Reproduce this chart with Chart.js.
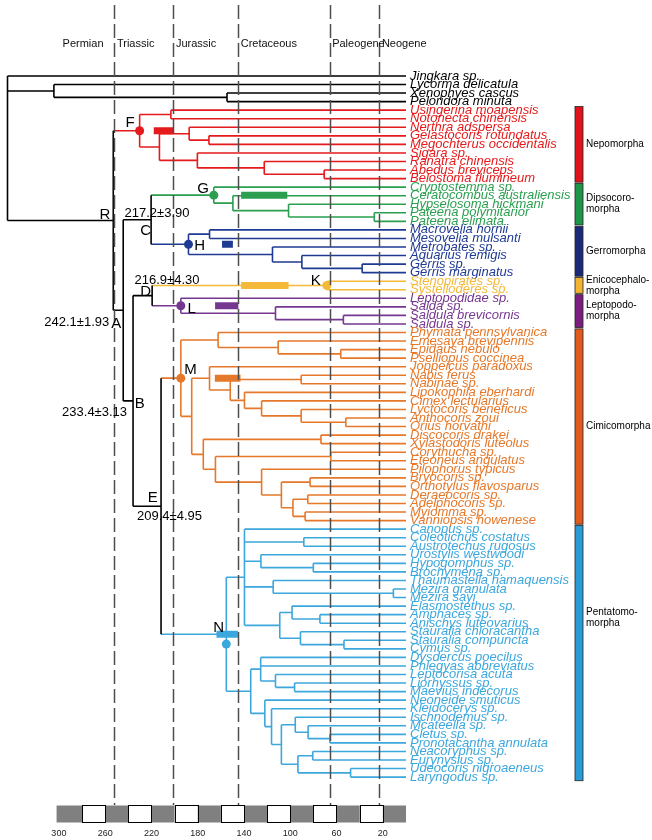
<!DOCTYPE html>
<html>
<head>
<meta charset="utf-8">
<script src="https://cdn.jsdelivr.net/npm/chart.js@4.4.1/dist/chart.umd.min.js"></script>
<style>
  html, body { margin: 0; padding: 0; background: #fff; }
  canvas { display: block; }
</style>
</head>
<body>
<canvas id="tree" width="652" height="840"></canvas>
<script>
// Dated phylogeny of Heteroptera, ages in Ma (written after each ":")

// Clades (placeholders #0..#6 in the backbone)
const cladeNames = ['Nepomorpha', 'Dipsocoromorpha', 'Gerromorpha', 'Enicocephalomorpha',
    'Leptopodomorpha', 'Cimicomorpha', 'Pentatomomorpha'];
const cladeLabels = [['Nepomorpha'], ['Dipsocoro-', 'morpha'], ['Gerromorpha'],
    ['Enicocephalo-', 'morpha'], ['Leptopodo-', 'morpha'], ['Cimicomorpha'], ['Pentatomo-', 'morpha']];
const cladeColors = ['#e41a1c', '#2b9f4f', '#1f3a93', '#f4b939', '#763790', '#e5782a', '#3ca7dc'];
const cladeBarColors = ['#e0131d', '#1e964a', '#1b2a78', '#f3b531', '#7a1f7f', '#e15b1e', '#2b9bd6'];

const backbone = '(Jingkara sp.,(Lycorma delicatula,(Xenophyes cascus,Peloridora minuta):154.7):304.3,' +
    '(#0,((#1,#2)C:220.3,((#3,#4)D:219.4,(#5,#6)E:211.7)B:235.9)A:244.4)R:253):344.4';

const cladeTrees = [
    // Nepomorpha
    '((Usingerina moapensis,Notonecta chinensis):203.2,((Nerthra adspersa,(Gelastocoris rotundatus,' +
    'Megochterus occidentalis):170.3):187.4,(Sigara sp.,(Ranatra chinensis,(Abedus breviceps,' +
    'Belostoma flumineum):70.7):122.5):180.3):213.1)F:230.2',
    // Dipsocoromorpha
    '(Cryptostemma sp.,(Ceratocombus australiensis,(Hypselosoma hickmani,(Pateena polymitarior,' +
    'Pateena elimata):27.4):101.5):149.6)G:166.1',
    // Gerromorpha
    '((Macrovelia hornii,Mesovelia mulsanti):169.8,(Metrobates sp.,(Aquarius remigis,(Gerris sp.,' +
    'Gerris marginatus):37.9):90):115.4)H:188',
    // Enicocephalomorpha
    '(Stenopirates sp.,Systelloderes sp.)K:68.4',
    // Leptopodomorpha
    '(Leptopodidae sp.,(Salda sp.,(Saldula brevicornis,Saldula sp.):54.1):112.8)L:194.6',
    // Cimicomorpha
    '((Phymata pennsylvanica,(Emesaya brevipennis,(Epidaus nebulo,Pselliopus coccinea):56.4):110.5):162.4,' +
    '((Joppeicus paradoxus,((Nabis ferus,Nabinae sp.):90.6,(Lipokophila eberhardi,(Cimex lectularius,' +
    '(Lyctocoris beneficus,(Anthocoris zoui,Orius horvathi):52):90.6):124.8):139.6):151.9):169.8,' +
    '((Discocoris drakei,Xylastodoris luteolus):73.5,((Corythucha sp.,Eteoneus angulatus):65,' +
    '(Pilophorus typicus,((Bryocoris sp.,Orthotylus flavosparus):82.9,((Deraeocoris sp.,Adelphocoris sp.):84.9,' +
    '(Myiomma sp.,Vanniopsis howenese):87.2):97.7):107.7):124.8):164.7):175.2):185.2)M:194.6',
    // Pentatomomorpha
    '((Canopus sp.,(Coleotichus costatus,Austrotechus rugosus):88.3,(Urostylis westwoodi,(Hypogomphus sp.,' +
    'Brochymena sp.):80.1):125.4,(Thaumastella namaquensis,(Mezira granulata,Mezira sayi):10.9):114.8,' +
    '((Elasmostethus sp.,(Amphaces sp.,Anischys luteovarius):74.4):98.5,(Stauralia chloracantha,' +
    '(Stauralia compuncta,Cymus sp.):53.6):91.2):109.1):139.6,' +
    '((Dysdercus poecilus,Phlegyas abbreviatus,(Leptocorisa acuta,(Liorhyssus sp.,Maevius indecorus):96.3):112.8):125.6,' +
    '(Neoneide smuticus,(Kleidocerys sp.,((Ischnodemus sp.,(Mcateella sp.,(Cletus sp.,Pronotacantha annulata):65.8):84.6):95.7,' +
    '((Neacoryphus sp.,Eurynysius sp.):80.6,(Udeocoris nigroaeneus,Laryngodus sp.):47.9):93.4):107.7):116.2):122):134.2)N:155.3'
];

// Node dots and 95% HPD bars (Ma)
const dotNodes = ['F', 'G', 'H', 'K', 'L', 'M', 'N'];
const barNodes = ['F', 'G', 'H', 'K', 'L', 'M', 'N'];
const barFrom = [218, 142.5, 159, 142.5, 165, 165.2, 163.8];
const barTo = [200.9, 102.6, 149.6, 101.5, 144.9, 143, 145.3];

// Age estimates printed next to backbone nodes
const noteNodes = ['A', 'B', 'C', 'D', 'E'];
const noteTexts = ['242.1±1.93', '233.4±3.13', '217.2±3.90', '216.9±4.30', '209.4±4.95'];

// Geological periods
const eraNames = ['Permian', 'Triassic', 'Jurassic', 'Cretaceous', 'Paleogene', 'Neogene'];
const eraStarts = [299, 252, 201, 145, 66, 23];
const boundaryAges = [252, 201, 145, 66, 23];

// Time scale bar
const tickValues = [300, 260, 220, 180, 140, 100, 60, 20];
const scaleStep = 20;
const scaleStart = 302;

/**
 * Reads a newick string where each inner node may carry a label and an age: (a,b)Label:age
 */
function parseNewick(str) {
    let i = 0;
    function readNode() {
        const node = { children: [], age: 0 };
        if (str[i] === '(') {
            i++;
            node.children.push(readNode());
            while (str[i] === ',') {
                i++;
                node.children.push(readNode());
            }
            i++;
        }
        let name = '';
        while (i < str.length && !',():'.includes(str[i])) name += str[i++];
        node.name = name.trim();
        if (str[i] === ':') {
            i++;
            let num = '';
            while (i < str.length && !',()'.includes(str[i])) num += str[i++];
            node.age = parseFloat(num);
        }
        return node;
    }
    return readNode();
}

// build the full tree, colour clades, and give every tip a row
const root = parseNewick(backbone);
const tips = [];
const byLabel = {};

function attach(node, color) {
    if (node.name.startsWith('#')) {
        const k = parseInt(node.name.slice(1), 10);
        Object.assign(node, parseNewick(cladeTrees[k]));
        color = cladeColors[k];
        node.clade = k;
    }
    node.color = color;
    node.children.forEach(c => attach(c, color));
    if (node.children.length === 0) {
        node.y = tips.length;
        tips.push(node);
    } else {
        const first = node.children[0].y;
        const last = node.children[node.children.length - 1].y;
        node.y = (first + last) / 2;
        if (node.name) byLabel[node.name] = node;
    }
}
attach(root, '#000000');

// collect branch segments by colour
const segments = {};
function addSegment(color, x1, y1, x2, y2) {
    if (!segments[color]) segments[color] = [];
    segments[color].push({ x: x1, y: y1 }, { x: x2, y: y2 }, { x: x2, y: null });
}
function walk(node, parent) {
    if (parent) addSegment(node.color, parent.age, node.y, node.age, node.y);
    if (node.children.length) {
        const first = node.children[0].y;
        const last = node.children[node.children.length - 1].y;
        addSegment(node.color, node.age, first, node.age, last);
        node.children.forEach(c => walk(c, node));
    }
}
walk(root, null);

const datasets = [];

// node dots
datasets.push({
    data: dotNodes.map(l => ({ x: byLabel[l].age, y: byLabel[l].y + (l === 'N' ? 1.15 : 0) })),
    showLine: false,
    pointRadius: 4.5,
    pointBorderWidth: 0,
    pointBackgroundColor: dotNodes.map(l => byLabel[l].color),
    order: 0
});

// HPD bars
barNodes.forEach((l, i) => {
    const n = byLabel[l];
    datasets.push({
        data: [{ x: barFrom[i], y: n.y }, { x: barTo[i], y: n.y }],
        borderColor: n.color,
        borderWidth: 7,
        borderCapStyle: 'butt',
        pointRadius: 0,
        order: 1
    });
});

// branches
Object.keys(segments).forEach(color => {
    datasets.push({
        data: segments[color],
        borderColor: color,
        borderWidth: 1.6,
        pointRadius: 0,
        spanGaps: false,
        order: 2
    });
});

// where node letters and age notes sit relative to their node (px)
const letterPos = {
    R: [-3, -2, 'right'], A: [-2, 17.7, 'right'], B: [1.7, 7.3, 'left'], C: [0, 15.3, 'right'],
    D: [-1, 0.4, 'right'], E: [-3.3, -4.7, 'right'], F: [-5, -4.1, 'right'], G: [-5, -1.8, 'right'],
    H: [5.7, 5.7, 'left'], K: [-6, -0.5, 'right'], L: [6.7, 7.5, 'left'], M: [3.4, -4.4, 'left'],
    N: [-2.3, -2.2, 'right']
};
const notePos = {
    A: [-14, 15.7, 'right'], B: [-6, 15, 'right'], C: [-26.6, -2.4, 'left'],
    D: [-17.6, -11.3, 'left'], E: [-24, 13.6, 'left']
};

const treeDecor = {
    id: 'treeDecor',
    beforeDraw(chart) {
        const ctx = chart.ctx;
        ctx.save();
        ctx.fillStyle = '#ffffff';
        ctx.fillRect(0, 0, chart.width, chart.height);
        ctx.restore();
    },
    afterDatasetsDraw(chart) {
        const { ctx, chartArea } = chart;
        const x = chart.scales.x;
        const y = chart.scales.y;

        // period boundaries
        ctx.save();
        ctx.strokeStyle = '#4d4d4d';
        ctx.lineWidth = 1.5;
        ctx.setLineDash([14, 5]);
        boundaryAges.forEach(a => {
            const px = Math.round(x.getPixelForValue(a)) + 0.5;
            ctx.beginPath();
            ctx.moveTo(px, chartArea.top);
            ctx.lineTo(px, chartArea.bottom);
            ctx.stroke();
        });
        ctx.restore();

        // node letters and age notes
        ctx.save();
        ctx.fillStyle = '#000';
        ctx.textBaseline = 'alphabetic';
        ctx.font = '15px "Liberation Sans", Arial, sans-serif';
        Object.keys(letterPos).forEach(l => {
            const n = byLabel[l];
            const p = letterPos[l];
            ctx.textAlign = p[2];
            ctx.fillText(l, x.getPixelForValue(n.age) + p[0], y.getPixelForValue(n.y) + p[1]);
        });
        ctx.font = '13px "Liberation Sans", Arial, sans-serif';
        noteNodes.forEach((l, i) => {
            const n = byLabel[l];
            const p = notePos[l];
            ctx.textAlign = p[2];
            ctx.fillText(noteTexts[i], x.getPixelForValue(n.age) + p[0], y.getPixelForValue(n.y) + p[1]);
        });
        ctx.restore();
    },
    afterDraw(chart) {
        const { ctx, chartArea } = chart;
        const x = chart.scales.x;
        const y = chart.scales.y;

        // period names
        ctx.save();
        ctx.fillStyle = '#111';
        ctx.font = '11px "Liberation Sans", Arial, sans-serif';
        ctx.textAlign = 'left';
        ctx.textBaseline = 'alphabetic';
        eraNames.forEach((name, i) => {
            ctx.fillText(name, x.getPixelForValue(eraStarts[i]) + 2.5, 46.5);
        });
        ctx.restore();

        // time scale bar
        ctx.save();
        const top = chartArea.bottom + 0.5;
        const h = 17;
        ctx.fillStyle = '#808080';
        ctx.fillRect(x.getPixelForValue(scaleStart), top,
            x.getPixelForValue(0) - x.getPixelForValue(scaleStart), h);
        ctx.fillStyle = '#ffffff';
        ctx.strokeStyle = '#000';
        ctx.lineWidth = 1;
        for (let a = scaleStep; a < 300; a += 2 * scaleStep) {
            const x1 = x.getPixelForValue(a + scaleStep);
            const x2 = x.getPixelForValue(a);
            ctx.fillRect(x1, top, x2 - x1, h);
            ctx.strokeRect(Math.round(x1) + 0.5, top, Math.round(x2 - x1), h);
        }
        ctx.restore();

        // clade bars and names on the right
        ctx.save();
        const barX = chartArea.right + 169;
        cladeNames.forEach((name, k) => {
            const members = tips.filter(t => t.color === cladeColors[k]);
            const y1 = y.getPixelForValue(members[0].y) - 3.6;
            const y2 = y.getPixelForValue(members[members.length - 1].y) + 3.6;
            ctx.fillStyle = cladeBarColors[k];
            ctx.fillRect(barX, y1, 8, y2 - y1);
            ctx.strokeStyle = '#222';
            ctx.lineWidth = 0.8;
            ctx.strokeRect(barX, y1, 8, y2 - y1);

            const lines = cladeLabels[k];
            const mid = k === 6 ? y1 + 92 : (y1 + y2) / 2;
            ctx.fillStyle = '#000';
            ctx.font = '10px "Liberation Sans", Arial, sans-serif';
            ctx.textAlign = 'left';
            ctx.textBaseline = 'middle';
            lines.forEach((txt, j) => {
                ctx.fillText(txt, barX + 11, mid + (j - (lines.length - 1) / 2) * 11);
            });
        });
        ctx.restore();
    }
};

Chart.defaults.font.family = '"Liberation Sans", Arial, sans-serif';

new Chart(document.getElementById('tree').getContext('2d'), {
    type: 'line',
    data: { datasets: datasets },
    options: {
        responsive: false,
        animation: false,
        events: [],
        layout: { padding: { top: 5, left: 0, right: 0, bottom: 0 } },
        scales: {
            x: {
                type: 'linear',
                min: 0,
                max: 347,
                reverse: true,
                position: 'bottom',
                grid: { display: false, drawTicks: false },
                border: { display: false },
                afterBuildTicks: s => { s.ticks = tickValues.map(v => ({ value: v })); },
                afterFit: s => { s.height = 35; s.paddingLeft = 0; s.paddingRight = 0; },
                ticks: {
                    autoSkip: false,
                    maxRotation: 0,
                    padding: 23,
                    color: '#222',
                    font: { size: 9 },
                    callback: v => String(v)
                }
            },
            y: {
                type: 'linear',
                min: -8.3,
                max: 85.26,
                reverse: true,
                position: 'right',
                grid: { display: false, drawTicks: false },
                border: { display: false },
                afterBuildTicks: s => { s.ticks = tips.map((t, i) => ({ value: i })); },
                afterFit: s => { s.width = 246; s.paddingTop = 0; s.paddingBottom = 0; },
                ticks: {
                    autoSkip: false,
                    padding: 4,
                    font: { size: 13, style: 'italic' },
                    color: c => (tips[c.index] ? tips[c.index].color : '#000'),
                    callback: v => (tips[v] ? tips[v].name : '')
                }
            }
        },
        plugins: {
            legend: { display: false },
            tooltip: { enabled: false }
        }
    },
    plugins: [treeDecor]
});
</script>
</body>
</html>
